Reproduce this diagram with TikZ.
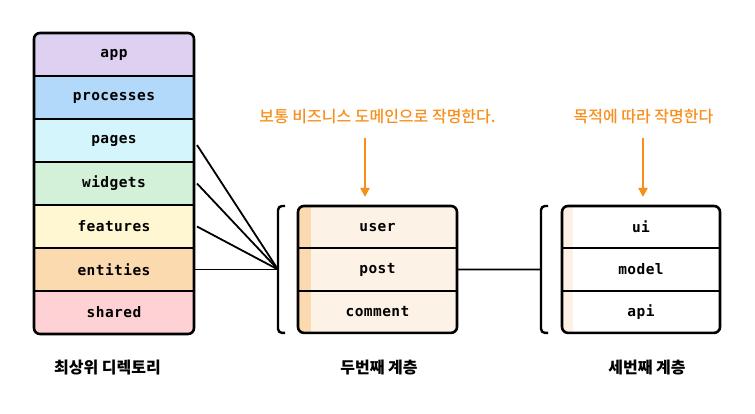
\documentclass[tikz,border=0pt]{standalone}
\usepackage{fontspec}
\usepackage{xcolor}
\usepackage{tikz}
\usetikzlibrary{arrows.meta, positioning, calc}
\newfontfamily\krfont{Noto Sans CJK KR}
\newfontfamily\krmed{Noto Sans CJK KR Medium}
\newfontfamily\codefont[LetterSpace=3]{DejaVu Sans Mono}
\definecolor{appc}{RGB}{222,208,241}
\definecolor{procc}{RGB}{178,216,250}
\definecolor{pagesc}{RGB}{213,245,253}
\definecolor{widgc}{RGB}{211,240,216}
\definecolor{featc}{RGB}{254,247,209}
\definecolor{entc}{RGB}{252,218,176}
\definecolor{sharc}{RGB}{254,210,212}
\definecolor{creamc}{RGB}{253,242,230}
\definecolor{palec}{RGB}{253,240,228}
\definecolor{noteorange}{RGB}{248,143,28}

\begin{document}
\begin{tikzpicture}[x=1pt, y=-1pt,
  layer/.style={minimum width=160pt, minimum height=43pt, inner sep=0pt,
    outer sep=0pt, font=\codefont\bfseries\fontsize{14.5}{16}\selectfont},
  slice/.style={minimum width=159pt, minimum height=42.3pt, inner sep=0pt,
    outer sep=0pt, font=\codefont\bfseries\fontsize{14.5}{16}\selectfont},
  frame/.style={line width=2.6pt, rounded corners=6pt},
  divider/.style={line width=2.2pt},
  link/.style={line width=1.8pt},
  bracket/.style={line width=2.4pt, rounded corners=4pt},
  note/.style={text=noteorange, font=\krmed\fontsize{16}{19}\selectfont},
  hint/.style={draw=noteorange, line width=2pt, -{Triangle[length=9pt, width=9pt]}},
  caption/.style={font=\krfont\bfseries\fontsize{16}{19}\selectfont}]
  \useasboundingbox (0,0) rectangle (755,414);

  % top-level directories
  \begin{scope}
    \clip[rounded corners=6pt] (34,33) rectangle (194,334);
    \node[layer, fill=appc] (app) at (114,54.5) {app};
    \node[layer, fill=procc, below=0pt of app] (processes) {processes};
    \node[layer, fill=pagesc, below=0pt of processes] (pages) {pages};
    \node[layer, fill=widgc, below=0pt of pages] (widgets) {widgets};
    \node[layer, fill=featc, below=0pt of widgets] (features) {features};
    \node[layer, fill=entc, below=0pt of features] (entities) {entities};
    \node[layer, fill=sharc, below=0pt of entities] (shared) {shared};
  \end{scope}
  \foreach \a in {app,processes,pages,widgets,features,entities}
    \draw[divider] (\a.south west) -- (\a.south east);
  \draw[frame] (app.north west) rectangle (shared.south east);

  % second level
  \begin{scope}
    \clip[rounded corners=6pt] (298,206) rectangle (457,333);
    \node[slice, fill=creamc] (user) at (377.5,227.15) {user};
    \node[slice, fill=creamc, below=0pt of user] (post) {post};
    \node[slice, fill=creamc, below=0pt of post] (comment) {comment};
    \fill[entc] (user.north west) rectangle ([xshift=13pt]comment.south west);
  \end{scope}
  \foreach \a in {user,post}
    \draw[divider] (\a.south west) -- (\a.south east);
  \draw[frame] (user.north west) rectangle (comment.south east);

  % third level
  \begin{scope}
    \clip[rounded corners=6pt] (562,206) rectangle (720,333);
    \node[slice, minimum width=158pt, fill=white] (ui) at (641,227.15) {ui};
    \node[slice, minimum width=158pt, fill=white, below=0pt of ui] (model) {model};
    \node[slice, minimum width=158pt, fill=white, below=0pt of model] (api) {api};
    \fill[palec] (ui.north west) rectangle ([xshift=11pt]api.south west);
  \end{scope}
  \foreach \a in {ui,model}
    \draw[divider] (\a.south west) -- (\a.south east);
  \draw[frame] (ui.north west) rectangle (api.south east);

  % brackets and links
  \coordinate (midbrk) at (278,269.5);
  \coordinate (rightbrk) at (541,269.5);
  \draw[bracket] ([xshift=7pt]midbrk |- user.north) -- (midbrk |- user.north)
    -- (midbrk |- comment.south) -- ([xshift=7pt]midbrk |- comment.south);
  \draw[bracket] ([xshift=7pt]rightbrk |- ui.north) -- (rightbrk |- ui.north)
    -- (rightbrk |- api.south) -- ([xshift=7pt]rightbrk |- api.south);
  \draw[link] ([xshift=3pt, yshift=-4.5pt]pages.east) -- (midbrk);
  \draw[link] ([xshift=3pt]widgets.east) -- (midbrk);
  \draw[link] ([xshift=3pt]features.east) -- (midbrk);
  \draw[link] (entities.east) -- (midbrk);
  \draw[link] (post.east) -- (rightbrk);

  % notes
  \node[note] (domainnote) at (377.5,117) {보통 비즈니스 도메인으로 작명한다.};
  \node[note] (purposenote) at (643.5,117) {목적에 따라 작명한다};
  \draw[hint] ([xshift=-12.5pt, yshift=-10pt]domainnote.south)
    -- ([xshift=-12.5pt, yshift=9pt]user.north);
  \draw[hint] ([xshift=-0.5pt, yshift=-10pt]purposenote.south)
    -- ([xshift=2pt, yshift=9pt]ui.north);

  % captions
  \node[caption] (topcap) at (107.5,368) {최상위 디렉토리};
  \node[caption] (secondcap) at (379,368) {두번째 계층};
  \node[caption] (thirdcap) at (647,368) {세번째 계층};
\end{tikzpicture}
\end{document}
